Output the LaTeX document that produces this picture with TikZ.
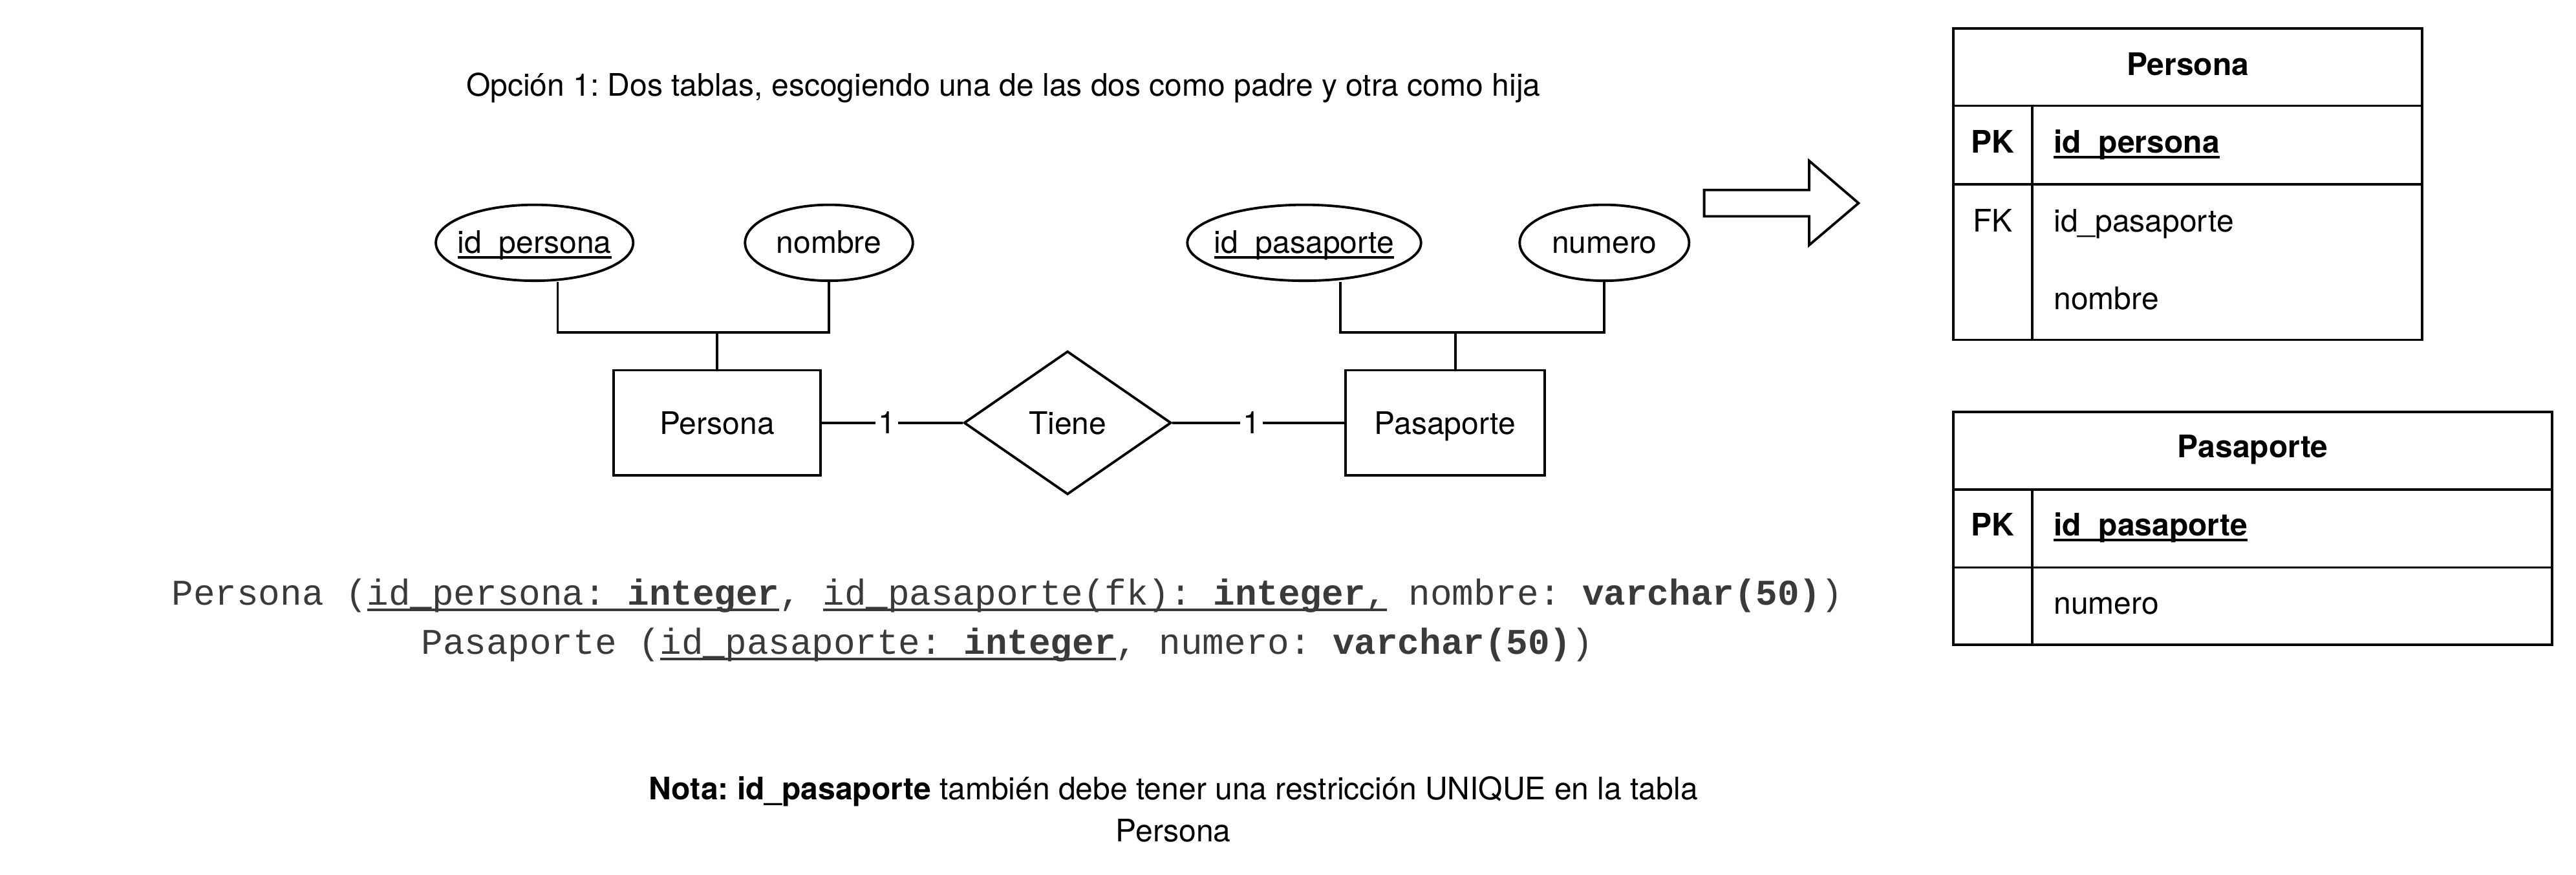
\documentclass[tikz,border=0pt]{standalone}
\usepackage{fontspec}
\setmainfont{TeX Gyre Heros}
\setmonofont{Liberation Mono}
\usetikzlibrary{positioning,shapes.geometric}
\definecolor{codegray}{HTML}{3A3A3A}
\newcommand{\ulk}[1]{\setbox0\hbox{#1}\rlap{\rule[-0.17em]{\wd0}{0.075em}}\box0\relax}
\frenchspacing

\begin{document}
\begin{tikzpicture}[x=1pt, y=-1pt, line width=1.5pt, font=\fontsize{18.8}{22}\selectfont]
\tikzstyle{entity} = [draw, rectangle, minimum width=125.5pt, minimum height=63.7pt, inner sep=0pt, text height=13.5pt, text depth=0pt]
\tikzstyle{attr} = [draw, ellipse, minimum height=46pt, inner sep=0pt, text height=13.5pt, text depth=1pt]
\tikzstyle{rel} = [draw, diamond, minimum width=125.5pt, minimum height=86.8pt, inner sep=0pt, text height=13.5pt, text depth=0pt]
\tikzstyle{card} = [fill=white, inner sep=1.5pt, pos=0.46]
\tikzstyle{cell} = [inner sep=0pt, text height=13.5pt, text depth=4pt]
\tikzstyle{code} = [font=\ttfamily\fontsize{21.9}{30}\selectfont, text=codegray, inner sep=0pt]

\useasboundingbox (0,0) rectangle (1560,529.4);

\node (titulo) at (607.6,53) {Opción 1: Dos tablas, escogiendo una de las dos como padre y otra como hija};

\node[entity] (persona) at (434.3,256) {Persona};
\node[rel, right=85.2pt of persona] (tiene) {Tiene};
\node[entity, minimum width=120.6pt, right=104pt of tiene] (pasaporte) {Pasaporte};

\node[attr, minimum width=119.5pt] (idpersona) at (323.7,147) {\makebox[0pt]{\ulk{id\_persona}}};
\node[attr, minimum width=101.6pt] (nombre) at (502,147) {\makebox[0pt]{nombre}};
\node[attr, minimum width=141.5pt] (idpasaporte) at (789.8,147) {\makebox[0pt]{\ulk{id\_pasaporte}}};
\node[attr, minimum width=102.6pt] (numero) at (971.6,147) {\makebox[0pt]{numero}};

\coordinate (union) at (0,201.2);
\draw ([xshift=14pt]idpersona.south) |- (nombre.south |- union) -- (nombre.south);
\draw (persona.north) -- (persona.north |- union);
\draw ([xshift=22pt]idpasaporte.south) |- (numero.south |- union) -- (numero.south);
\draw ([xshift=6.3pt]pasaporte.north) -- ([xshift=6.3pt]pasaporte.north |- union);

\draw (persona) -- node[card] {1} (tiene);
\draw (tiene) -- node[card] {1} (pasaporte);

\draw (1032,115) -- (1095.6,115) -- (1095.6,97.4) -- (1125.5,123) -- (1095.6,148.4) -- (1095.6,131) -- (1032,131) -- cycle;

\draw (1183,17.1) rectangle (1466.7,205.8);
\draw (1183,64) -- (1466.7,64);
\draw (1183,111.5) -- (1466.7,111.5);
\draw (1230.6,64) -- (1230.6,205.8);
\node[cell] (tpersona) at (1324.9,40.9) {\textbf{Persona}};
\node[cell] (pkpersona) at (1206.8,87.8) {\textbf{PK}};
\node[cell, anchor=west] (colidpersona) at (1243,87.8) {\textbf{\ulk{id\_persona}}};
\node[cell] (fkpersona) at (1206.8,135.7) {FK};
\node[cell, anchor=west] (colfk) at (1243,135.7) {id\_pasaporte};
\node[cell, anchor=west] (colnombre) at (1243,182.6) {nombre};

\draw (1183,249.3) rectangle (1545.5,390.5);
\draw (1183,296.5) -- (1545.5,296.5);
\draw (1183,343.6) -- (1545.5,343.6);
\draw (1230.6,296.5) -- (1230.6,390.5);
\node[cell] (tpasaporte) at (1364.3,272.2) {\textbf{Pasaporte}};
\node[cell] (pkpasaporte) at (1206.8,319.7) {\textbf{PK}};
\node[cell, anchor=west] (colidpasaporte) at (1243,319.7) {\textbf{\ulk{id\_pasaporte}}};
\node[cell, anchor=west] (colnumero) at (1243,367.1) {numero};

\node[code] (relpersona) at (610,360.6) {Persona (\ulk{id\_persona: \textbf{integer}}, \ulk{id\_pasaporte(fk): \textbf{integer},} nombre: \textbf{varchar(50)})};
\node[code] (relpasaporte) at (610,390.4) {Pasaporte (\ulk{id\_pasaporte: \textbf{integer}}, numero: \textbf{varchar(50)})};

\node (nota) at (710.6,479) {\textbf{Nota:} \textbf{id\_pasaporte} también debe tener una restricción UNIQUE en la tabla};
\node (notafin) at (710.6,503) {Persona};
\end{tikzpicture}
\end{document}
